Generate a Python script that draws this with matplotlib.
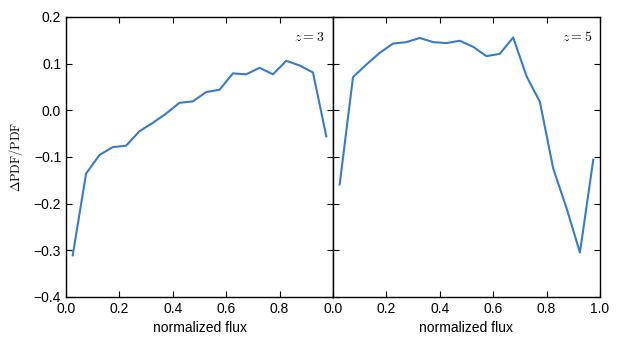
import numpy as np
import matplotlib
matplotlib.use("Agg")
import matplotlib.pyplot as plt

plt.rcParams['font.family'] = ['Liberation Sans', 'DejaVu Sans']
plt.rcParams['mathtext.fontset'] = 'cm'

flux = np.arange(0.025, 1.0, 0.05)

# z = 3
dpdf_z3 = [-0.311, -0.136, -0.096, -0.079, -0.076, -0.045, -0.027, -0.007, 0.016, 0.019,
           0.039, 0.044, 0.079, 0.077, 0.091, 0.077, 0.106, 0.096, 0.081, -0.056]
# z = 5
dpdf_z5 = [-0.159, 0.071, 0.098, 0.123, 0.143, 0.146, 0.155, 0.146, 0.144, 0.149,
           0.136, 0.116, 0.121, 0.156, 0.073, 0.018, -0.125, -0.21, -0.305, -0.106]

panels = [(dpdf_z3, r"$z=3$"), (dpdf_z5, r"$z=5$")]
color = "#3a7bc6"

fig, axes = plt.subplots(1, 2, figsize=(6.23, 3.46), dpi=100, sharey=True)
fig.subplots_adjust(left=0.106, right=0.963, top=0.951, bottom=0.142, wspace=0)

for i, (ax, (vals, lab)) in enumerate(zip(axes, panels)):
    ax.plot(flux, vals, color=color, lw=1.5)
    ax.set_xlim(0, 1)
    ax.set_ylim(-0.4, 0.2)
    ax.set_xticks([0, 0.2, 0.4, 0.6, 0.8, 1.0])
    ax.set_yticks(np.arange(-0.4, 0.21, 0.1))
    ax.tick_params(direction='in', top=True, right=True, length=4, labelsize=10)
    ax.set_xlabel("normalized flux", fontsize=10)
    ax.text(0.97, 0.93, lab, transform=ax.transAxes, ha='right', va='center', fontsize=10)
    for s in ax.spines.values():
        s.set_linewidth(1.0)

axes[0].set_xticklabels(["0.0", "0.2", "0.4", "0.6", "0.8", ""])
axes[0].set_yticklabels(["\u22120.4", "\u22120.3", "\u22120.2", "\u22120.1", "0.0", "0.1", "0.2"])
axes[0].set_ylabel(r"$\Delta\mathrm{PDF}/\mathrm{PDF}$", fontsize=9, labelpad=6)

fig.savefig("out.png", dpi=100)
